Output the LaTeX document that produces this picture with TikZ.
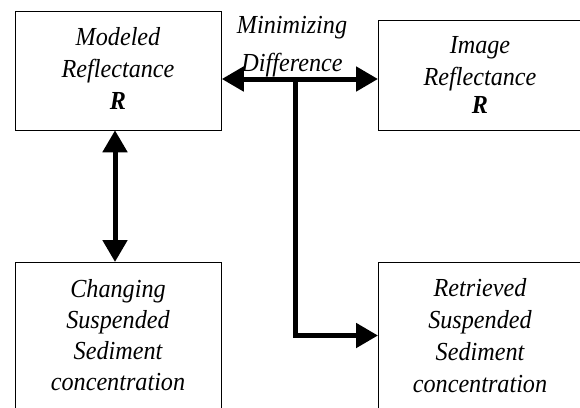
\documentclass[tikz,border=0pt]{standalone}
\usepackage{fontspec}
\setmainfont{Liberation Serif}[FakeStretch=0.93]
\usetikzlibrary{arrows.meta}
\begin{document}
\begin{tikzpicture}[x=1pt,y=-1pt,
  box/.style={draw, line width=0.8pt, inner sep=0pt, anchor=north west},
  txt/.style={font=\fontsize{26}{32}\selectfont\itshape, align=center, inner sep=0pt, anchor=base},
  conn/.style={line width=5pt, -{Triangle[length=22pt,width=24pt]}},
  dbl/.style={line width=5pt, {Triangle[length=22pt,width=24pt]}-{Triangle[length=22pt,width=24pt]}},
  ]
\useasboundingbox (0,0) rectangle (580,407);
\clip (0,0) rectangle (580,407);
\node[box, minimum width=206pt, minimum height=119pt] (mr) at (15,10.5) {};
\node[box, minimum width=206pt, minimum height=110pt] (ir) at (378,20) {};
\node[box, minimum width=206pt, minimum height=150pt] (cs) at (15,262) {};
\node[box, minimum width=206pt, minimum height=150pt] (rs) at (378,262) {};
\node[txt] (mrt) at (118,109.5) {Modeled\\Reflectance\\\textbf{\textit{R}}};
\node[txt] (irt) at (480,113) {Image\\Reflectance\\[-4pt]\textbf{\textit{R}}};
\node[txt, font=\fontsize{26}{31}\selectfont\itshape] (cst) at (118,390.5) {Changing\\Suspended\\Sediment\\concentration};
\node[txt, font=\fontsize{26}{31.7}\selectfont\itshape] (rst) at (480,392) {Retrieved\\Suspended\\Sediment\\concentration};
\coordinate (j) at (295,79);
\coordinate (k) at (295,335.5);
\coordinate (v) at (115,0);
\draw[dbl] (j -| mr.east) -- (j -| ir.west);
\draw[conn, line join=miter] (j) -- (k) -- (k -| rs.west);
\draw[dbl] (mr.south -| v) -- (cs.north -| v);
\node[txt, font=\fontsize{26}{38}\selectfont\itshape] (md) at (292,71) {Minimizing\\Difference};
\end{tikzpicture}
\end{document}
